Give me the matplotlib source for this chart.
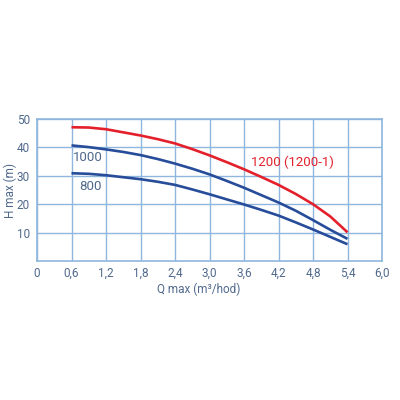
import matplotlib
matplotlib.use("Agg")
import matplotlib.pyplot as plt

Q = [0.6, 0.9, 1.2, 1.5, 1.8, 2.1, 2.4, 2.7, 3.0, 3.3, 3.6, 3.9, 4.2, 4.5, 4.8, 5.1, 5.4]
H_1200 = [47.1, 47.0, 46.4, 45.3, 44.2, 42.9, 41.4, 39.4, 37.2, 34.8, 32.3, 29.6, 26.8, 23.6, 20.0, 15.7, 10.1]
H_1000 = [40.7, 40.1, 39.3, 38.4, 37.3, 35.9, 34.3, 32.5, 30.5, 28.2, 25.8, 23.2, 20.6, 17.7, 14.4, 11.0, 7.8]
H_800 = [30.9, 30.7, 30.2, 29.5, 28.8, 27.9, 26.8, 25.2, 23.5, 21.7, 19.9, 18.0, 16.0, 13.6, 11.1, 8.5, 5.9]

X_TICKS = [0, 0.6, 1.2, 1.8, 2.4, 3.0, 3.6, 4.2, 4.8, 5.4, 6.0]
X_LABELS = ["0", "0,6", "1,2", "1,8", "2,4", "3,0", "3,6", "4,2", "4,8", "5,4", "6,0"]
Y_TICKS = [10, 20, 30, 40, 50]

GRID = "#8fb6de"
TEXT = "#50698c"
BLUE = "#264c9a"
RED = "#e3202b"
FONT = "Roboto"

fig = plt.figure(figsize=(4, 4), dpi=100)
ax = fig.add_axes([0.0925, 0.3475, 0.8625, 0.355])
ax.set_xlim(0, 6.0)
ax.set_ylim(0, 50)

for x in X_TICKS:
    ax.axvline(x, color=GRID, lw=1.0, zorder=0)
for y in Y_TICKS:
    ax.axhline(y, color=GRID, lw=1.0, zorder=0)
for s in ax.spines.values():
    s.set_color(GRID)
    s.set_linewidth(1.2)

ax.plot(Q, H_800, color=BLUE, lw=1.9, solid_capstyle="butt", solid_joinstyle="round")
ax.plot(Q, H_1000, color=BLUE, lw=1.9, solid_capstyle="butt", solid_joinstyle="round")
ax.plot(Q, H_1200, color=RED, lw=1.9, solid_capstyle="butt", solid_joinstyle="round")

ax.text(0.63, 36.3, "1000", color=TEXT, fontsize=9.5, family=FONT, ha="left", va="center")
ax.text(0.73, 26.4, "800", color=TEXT, fontsize=9.5, family=FONT, ha="left", va="center")
ax.text(3.72, 34.9, "1200 (1200-1)", color=RED, fontsize=9.5, family=FONT, ha="left", va="center")

ax.set_xticks(X_TICKS)
ax.set_xticklabels(X_LABELS)
ax.set_yticks(Y_TICKS)
ax.tick_params(length=0, colors=TEXT, labelsize=8.5)
ax.tick_params(axis="x", pad=4)
ax.tick_params(axis="y", pad=5)
for lab in ax.get_xticklabels() + ax.get_yticklabels():
    lab.set_family(FONT)

ax.set_xlabel("Q max (m³/hod)", color=TEXT, fontsize=8.5, family=FONT)
ax.set_ylabel("H max (m)", color=TEXT, fontsize=8.5, family=FONT)
ax.xaxis.set_label_coords(0.47, -0.15)
ax.yaxis.set_label_coords(-0.058, 0.5)

fig.savefig("out.png", dpi=100, facecolor="white")
